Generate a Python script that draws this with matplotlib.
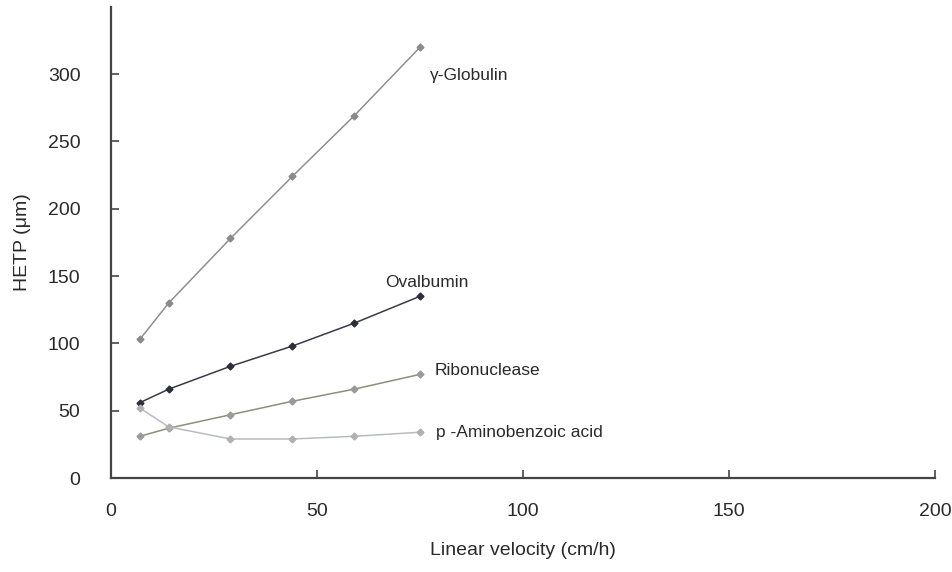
import matplotlib
matplotlib.use("Agg")
import matplotlib.pyplot as plt

plt.rcParams['font.family'] = ['Liberation Sans', 'DejaVu Sans']

# linear velocity (cm/h)
velocity = [7, 14, 29, 44, 59, 75]

# HETP (um) for each solute
globulin = [103, 130, 178, 224, 269, 320]
ovalbumin = [56, 66, 83, 98, 115, 135]
ribonuclease = [31, 37, 47, 57, 66, 77]
aminobenzoic = [52, 38, 29, 29, 31, 34]

series = [
    (globulin, '#8f8f8f', '#8a8a8a', 'γ-Globulin', (77.5, 299)),
    (ovalbumin, '#3a3a48', '#2e2e3a', 'Ovalbumin', (66.5, 145)),
    (ribonuclease, '#8c8f7a', '#9a9a9a', 'Ribonuclease', (78.5, 80)),
    (aminobenzoic, '#b8bcc0', '#b0b0b0', 'p -Aminobenzoic acid', (79, 34)),
]

fig = plt.figure(figsize=(9.53, 5.72), dpi=100)
ax = fig.add_axes([0.1165, 0.1643, 0.8645, 0.8237])

for vals, lc, mc, name, (tx, ty) in series:
    ax.plot(velocity, vals, color=lc, lw=1.1, marker='D', ms=3.5,
            markerfacecolor=mc, markeredgecolor=mc)
    ax.text(tx, ty, name, fontsize=12.5, color='#2a2a2a', va='center', ha='left')

ax.set_xlim(0, 200)
ax.set_ylim(0, 350)
ax.set_xticks([0, 50, 100, 150, 200])
ax.set_yticks([0, 50, 100, 150, 200, 250, 300])

for s in ['top', 'right']:
    ax.spines[s].set_visible(False)
for s in ['left', 'bottom']:
    ax.spines[s].set_color('#444444')
    ax.spines[s].set_linewidth(1.6)

ax.tick_params(direction='in', length=6, width=1.2, color='#444444',
               labelsize=14, labelcolor='#2a2a2a')
ax.tick_params(axis='x', pad=18)
ax.tick_params(axis='y', pad=22)

ax.set_xlabel('Linear velocity (cm/h)', fontsize=14, color='#2a2a2a', labelpad=16)
ax.set_ylabel('HETP (μm)', fontsize=14, color='#2a2a2a', labelpad=12)

fig.savefig('out.png', dpi=100)
